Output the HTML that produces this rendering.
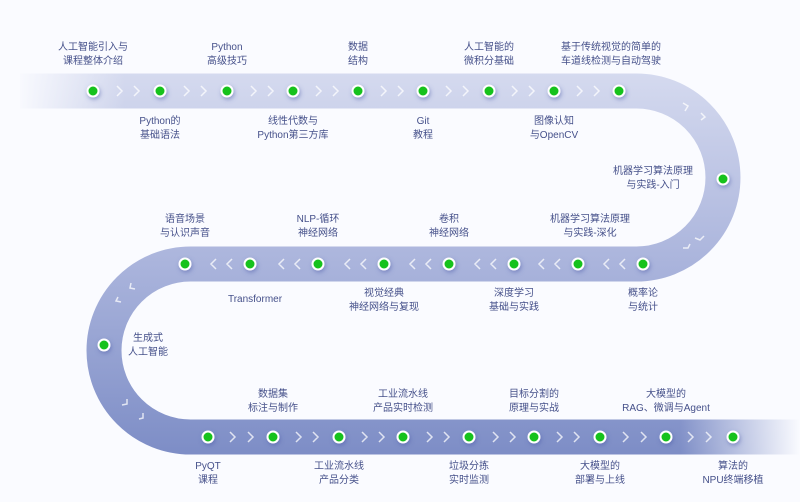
<!DOCTYPE html>
<html><head><meta charset="utf-8"><style>
html,body{margin:0;padding:0;background:#fafbff;}
svg{display:block;}
text{font-family:"Liberation Sans","Noto Sans CJK SC",sans-serif;font-size:10px;fill:#45508a;text-anchor:middle;}
</style></head><body>
<svg width="800" height="502" viewBox="0 0 800 502" xmlns="http://www.w3.org/2000/svg">
<defs>
<linearGradient id="g" x1="0" y1="73" x2="0" y2="455" gradientUnits="userSpaceOnUse">
<stop offset="0" stop-color="#d5daef"/>
<stop offset="0.5" stop-color="#aab4dc"/>
<stop offset="1" stop-color="#7d8dc6"/>
</linearGradient>
<linearGradient id="fl" x1="0" x2="1">
<stop offset="0" stop-color="#fafbff" stop-opacity="1"/>
<stop offset="1" stop-color="#fafbff" stop-opacity="0"/>
</linearGradient>
<linearGradient id="fr" x1="0" x2="1">
<stop offset="0" stop-color="#fafbff" stop-opacity="0"/>
<stop offset="1" stop-color="#fafbff" stop-opacity="1"/>
</linearGradient>
<filter id="sh" x="-1" y="-1" width="3" height="3"><feDropShadow dx="1" dy="2" stdDeviation="2" flood-color="#4a5aa8" flood-opacity="0.5"/></filter>
</defs>
<rect width="800" height="502" fill="#fafbff"/>
<path d="M20 91 H636.5 A86.5 86.5 0 0 1 636.5 264 H190.5 A86.5 86.5 0 0 0 190.5 437 H800" fill="none" stroke="url(#g)" stroke-width="35"/>
<rect x="15" y="70" width="110" height="42" fill="url(#fl)"/>
<rect x="680" y="415" width="120" height="45" fill="url(#fr)"/>
<g fill="none" stroke="#ffffff" stroke-opacity="0.75" stroke-width="1.5">
<path d="M117 86l5 5-5 5M134 86l5 5-5 5M184 86l5 5-5 5M201 86l5 5-5 5M251 86l5 5-5 5M268 86l5 5-5 5M316 86l5 5-5 5M333 86l5 5-5 5M381 86l5 5-5 5M398 86l5 5-5 5M446 86l5 5-5 5M463 86l5 5-5 5M512 86l5 5-5 5M529 86l5 5-5 5M577 86l5 5-5 5M594 86l5 5-5 5"/>
<path d="M683 103l5 3-3 5M701 113l4 4-4 3M704 236l-4 4-5-2M690 244l-2 4-5 0"/>
<path d="M625 259l-5 5 5 5M609 259l-5 5 5 5M560 259l-5 5 5 5M544 259l-5 5 5 5M496 259l-5 5 5 5M480 259l-5 5 5 5M431 259l-5 5 5 5M415 259l-5 5 5 5M366 259l-5 5 5 5M350 259l-5 5 5 5M300 259l-5 5 5 5M284 259l-5 5 5 5M232 259l-5 5 5 5M216 259l-5 5 5 5"/>
<path d="M131 283l-1 5 5 1M118 297l-2 4 5 1M122 405l5-1 0-5M139 419l4-1 0-5"/>
<path d="M230 432l5 5-5 5M248 432l5 5-5 5M296 432l5 5-5 5M313 432l5 5-5 5M362 432l5 5-5 5M379 432l5 5-5 5M427 432l5 5-5 5M444 432l5 5-5 5M493 432l5 5-5 5M510 432l5 5-5 5M557 432l5 5-5 5M574 432l5 5-5 5M623 432l5 5-5 5M641 432l5 5-5 5M688 432l5 5-5 5M706 432l5 5-5 5"/>
</g>
<g fill="#16c21b" stroke="#ffffff" stroke-width="2" filter="url(#sh)">
<circle cx="93" cy="91" r="5.5"/><circle cx="160" cy="91" r="5.5"/><circle cx="227" cy="91" r="5.5"/><circle cx="293" cy="91" r="5.5"/><circle cx="358" cy="91" r="5.5"/><circle cx="423" cy="91" r="5.5"/><circle cx="489" cy="91" r="5.5"/><circle cx="554" cy="91" r="5.5"/><circle cx="619" cy="91" r="5.5"/>
<circle cx="723" cy="179" r="5.5"/>
<circle cx="643" cy="264" r="5.5"/><circle cx="578" cy="264" r="5.5"/><circle cx="514" cy="264" r="5.5"/><circle cx="449" cy="264" r="5.5"/><circle cx="384" cy="264" r="5.5"/><circle cx="318" cy="264" r="5.5"/><circle cx="250" cy="264" r="5.5"/><circle cx="185" cy="264" r="5.5"/>
<circle cx="104" cy="345" r="5.5"/>
<circle cx="208" cy="437" r="5.5"/><circle cx="273" cy="437" r="5.5"/><circle cx="339" cy="437" r="5.5"/><circle cx="403" cy="437" r="5.5"/><circle cx="469" cy="437" r="5.5"/><circle cx="534" cy="437" r="5.5"/><circle cx="600" cy="437" r="5.5"/><circle cx="666" cy="437" r="5.5"/><circle cx="733" cy="437" r="5.5"/>
</g>
<g>
<text x="93" y="50">人工智能引入与</text><text x="93" y="64">课程整体介绍</text>
<text x="227" y="50">Python</text><text x="227" y="64">高级技巧</text>
<text x="358" y="50">数据</text><text x="358" y="64">结构</text>
<text x="489" y="50">人工智能的</text><text x="489" y="64">微积分基础</text>
<text x="611" y="50">基于传统视觉的简单的</text><text x="611" y="64">车道线检测与自动驾驶</text>
<text x="160" y="124">Python的</text><text x="160" y="138">基础语法</text>
<text x="293" y="124">线性代数与</text><text x="293" y="138">Python第三方库</text>
<text x="423" y="124">Git</text><text x="423" y="138">教程</text>
<text x="554" y="124">图像认知</text><text x="554" y="138">与OpenCV</text>
<text x="653" y="174">机器学习算法原理</text><text x="653" y="188">与实践-入门</text>
<text x="185" y="222">语音场景</text><text x="185" y="236">与认识声音</text>
<text x="318" y="222">NLP-循环</text><text x="318" y="236">神经网络</text>
<text x="449" y="222">卷积</text><text x="449" y="236">神经网络</text>
<text x="590" y="222">机器学习算法原理</text><text x="590" y="236">与实践-深化</text>
<text x="255" y="302">Transformer</text>
<text x="384" y="296">视觉经典</text><text x="384" y="310">神经网络与复现</text>
<text x="514" y="296">深度学习</text><text x="514" y="310">基础与实践</text>
<text x="643" y="296">概率论</text><text x="643" y="310">与统计</text>
<text x="148" y="341">生成式</text><text x="148" y="355">人工智能</text>
<text x="273" y="397">数据集</text><text x="273" y="411">标注与制作</text>
<text x="403" y="397">工业流水线</text><text x="403" y="411">产品实时检测</text>
<text x="534" y="397">目标分割的</text><text x="534" y="411">原理与实战</text>
<text x="666" y="397">大模型的</text><text x="666" y="411">RAG、微调与Agent</text>
<text x="208" y="469">PyQT</text><text x="208" y="483">课程</text>
<text x="339" y="469">工业流水线</text><text x="339" y="483">产品分类</text>
<text x="469" y="469">垃圾分拣</text><text x="469" y="483">实时监测</text>
<text x="600" y="469">大模型的</text><text x="600" y="483">部署与上线</text>
<text x="733" y="469">算法的</text><text x="733" y="483">NPU终端移植</text>
</g>
</svg>
</body></html>
